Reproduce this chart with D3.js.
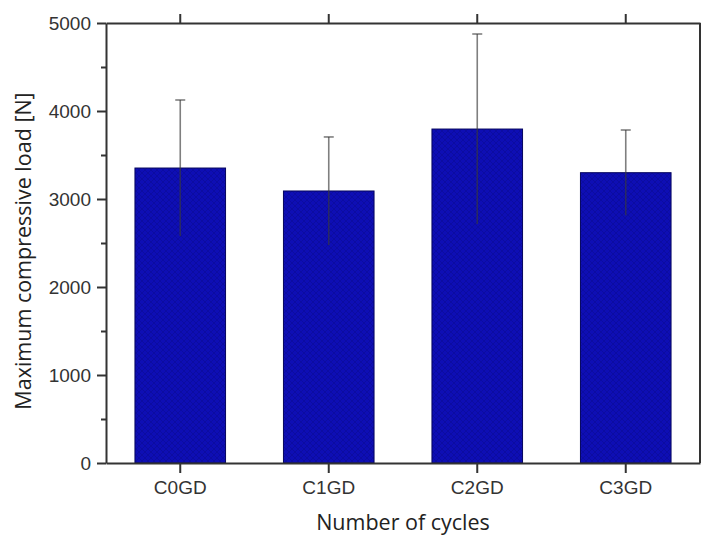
<!DOCTYPE html>
<html>
<head>
<meta charset="utf-8">
<script src="https://cdn.jsdelivr.net/npm/d3@7"></script>
<style>
  body { margin: 0; background: #fff; }
</style>
</head>
<body>
<div id="chart"></div>
<script>
const categories = ['C0GD', 'C1GD', 'C2GD', 'C3GD'];
const loadMeans = [3352, 3091, 3795, 3299];
const loadErrors = [773, 614, 1080, 485];
const yTicks = [0, 1000, 2000, 3000, 4000, 5000];
const yMinorTicks = [500, 1500, 2500, 3500, 4500];

const width = 702, height = 536;
const margin = { top: 23, right: 2, bottom: 73, left: 106 };
const plotWidth = width - margin.left - margin.right;
const plotHeight = height - margin.top - margin.bottom;

const svg = d3.select('#chart')
    .append('svg')
    .attr('width', width)
    .attr('height', height);

// subtle crosshatch like the original
const defs = svg.append('defs');
const pat = defs.append('pattern')
    .attr('id', 'hatch')
    .attr('width', 6).attr('height', 6)
    .attr('patternUnits', 'userSpaceOnUse');
pat.append('rect').attr('width', 6).attr('height', 6).attr('fill', '#0e0eb4');
pat.append('path').attr('d', 'M0,0L6,6M6,0L0,6')
    .attr('stroke', '#0a0a92').attr('stroke-width', 1).attr('stroke-opacity', 0.55);

const g = svg.append('g')
    .attr('transform', `translate(${margin.left},${margin.top})`);

const x = d3.scaleBand()
    .domain(categories)
    .range([0, plotWidth])
    .paddingInner(0.39)
    .paddingOuter(0.195);

const y = d3.scaleLinear()
    .domain([0, 5000])
    .range([plotHeight, 0]);

const data = categories.map((c, i) => ({ cat: c, mean: loadMeans[i], err: loadErrors[i] }));

// bars
g.selectAll('rect.bar')
    .data(data)
    .join('rect')
    .attr('class', 'bar')
    .attr('x', d => x(d.cat))
    .attr('y', d => y(d.mean))
    .attr('width', x.bandwidth())
    .attr('height', d => y(0) - y(d.mean))
    .attr('fill', 'url(#hatch)')
    .attr('stroke', '#05055e')
    .attr('stroke-width', 1);

const axisFont = '"Liberation Sans", Arial, sans-serif';

// bottom axis
g.append('g')
    .attr('transform', `translate(0,${plotHeight})`)
    .call(d3.axisBottom(x).tickSize(10).tickPadding(8).tickSizeOuter(0));
// top axis (ticks only)
g.append('g')
    .call(d3.axisTop(x).tickSize(9).tickFormat('').tickSizeOuter(0));
// left axis
g.append('g')
    .call(d3.axisLeft(y).tickValues(yTicks).tickFormat(d3.format('d'))
        .tickSize(9).tickPadding(6).tickSizeOuter(0));
const yMinor = g.append('g')
    .call(d3.axisLeft(y).tickValues(yMinorTicks).tickSize(5).tickFormat('').tickSizeOuter(0));
yMinor.select('.domain').remove();
// right frame line
g.append('line')
    .attr('class', 'frame')
    .attr('x1', plotWidth).attr('x2', plotWidth)
    .attr('y1', 0).attr('y2', plotHeight);

g.selectAll('.domain, .tick line, line.frame').attr('stroke', '#333').attr('stroke-width', 2);

g.selectAll('.tick text')
    .attr('font-family', axisFont)
    .attr('font-size', 19)
    .attr('fill', '#333');

// error bars
const eb = g.selectAll('g.err')
    .data(data)
    .join('g')
    .attr('class', 'err')
    .attr('stroke', '#3a3a3a')
    .attr('stroke-opacity', 0.65)
    .attr('stroke-width', 1.6);
eb.append('line')
    .attr('x1', d => x(d.cat) + x.bandwidth() / 2)
    .attr('x2', d => x(d.cat) + x.bandwidth() / 2)
    .attr('y1', d => y(d.mean - d.err))
    .attr('y2', d => y(d.mean + d.err));
eb.append('line')
    .attr('x1', d => x(d.cat) + x.bandwidth() / 2 - 5)
    .attr('x2', d => x(d.cat) + x.bandwidth() / 2 + 5)
    .attr('y1', d => y(d.mean + d.err))
    .attr('y2', d => y(d.mean + d.err));

// axis titles
const titleFont = '"Open Sans", sans-serif';
svg.append('text')
    .attr('transform', `translate(31,${margin.top + plotHeight / 2 + 8}) rotate(-90)`)
    .attr('text-anchor', 'middle')
    .attr('font-family', titleFont)
    .attr('font-size', 21.5)
    .attr('fill', '#222')
    .text('Maximum compressive load [N]');

svg.append('text')
    .attr('x', margin.left + plotWidth / 2)
    .attr('y', 530)
    .attr('text-anchor', 'middle')
    .attr('font-family', titleFont)
    .attr('font-size', 21.5)
    .attr('fill', '#222')
    .text('Number of cycles');
</script>
</body>
</html>
